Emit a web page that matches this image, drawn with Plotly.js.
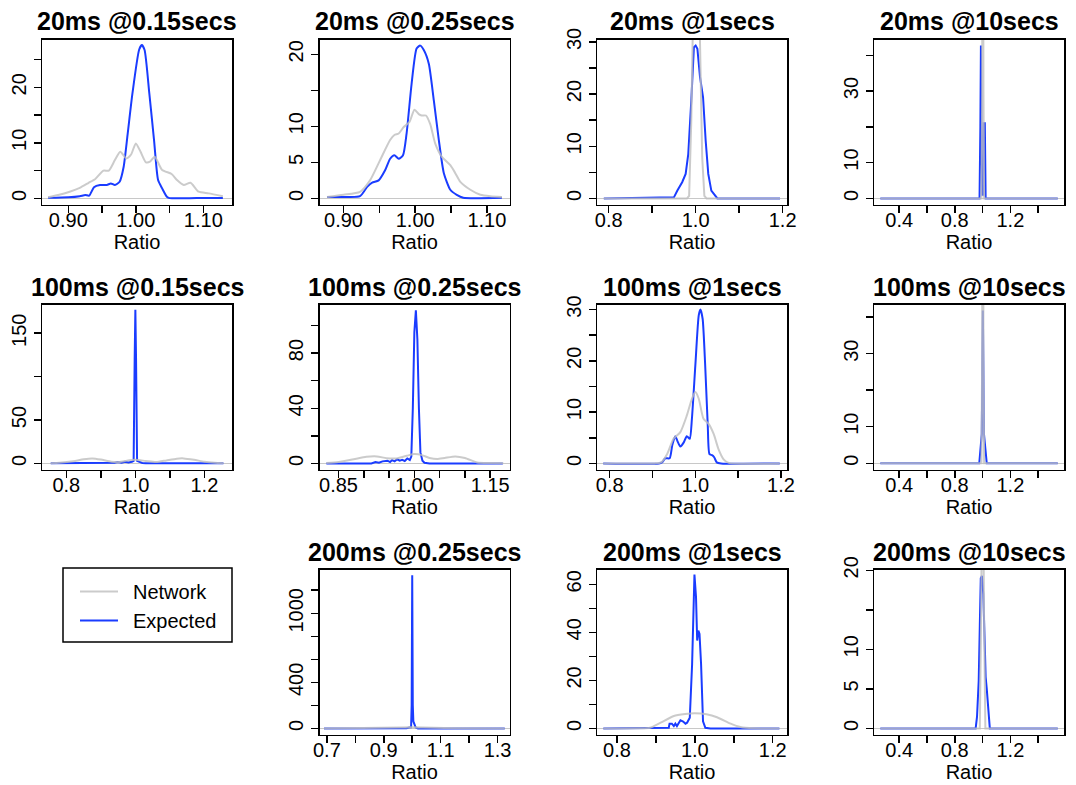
<!DOCTYPE html>
<html>
<head>
<meta charset="utf-8">
<script src="https://cdn.plot.ly/plotly-3.0.1.min.js"></script>
<style>html,body{margin:0;padding:0;background:#fff;}#chart{width:1076px;height:785px;}</style>
</head>
<body>
<div id="chart"></div>
<script>
// ---------- DATA ----------
const seriesNames = ['Network', 'Expected'];
const panelTitles = ['20ms @0.15secs','20ms @0.25secs','20ms @1secs','20ms @10secs',
                     '100ms @0.15secs','100ms @0.25secs','100ms @1secs','100ms @10secs',
                     '200ms @0.25secs','200ms @1secs','200ms @10secs'];
const xAxisLabel = 'Ratio';

// 20ms @0.15secs
const p1ExpX = [0.870,0.900,0.917,0.925,0.931,0.938,0.947,0.957,0.963,0.969,0.976,0.982,0.988,0.995,1.005,1.009,1.013,1.020,1.027,1.033,1.039,1.046,1.050,1.090,1.129];
const p1ExpY = [0.1,0.2,0.4,0.6,0.5,2.0,2.4,2.4,2.7,2.4,3.0,5.7,11.7,18.9,26.8,27.6,26.7,18.9,10.5,3.3,1.8,0.3,0.05,0.05,0.05];
const p1NetX = [0.870,0.885,0.902,0.917,0.930,0.940,0.952,0.960,0.969,0.977,0.986,0.993,1.000,1.007,1.015,1.021,1.028,1.039,1.053,1.061,1.071,1.081,1.093,1.108,1.129];
const p1NetY = [0.2,0.6,1.2,1.9,2.8,3.5,5.0,5.0,6.9,8.4,7.2,7.9,9.9,8.4,6.5,6.6,7.5,5.1,4.4,3.3,2.4,2.8,1.2,0.9,0.4];
// 20ms @0.25secs
const p2ExpX = [0.877,0.900,0.923,0.933,0.940,0.949,0.958,0.965,0.971,0.977,0.983,0.988,0.995,1.002,1.007,1.012,1.019,1.026,1.033,1.040,1.049,1.058,1.067,1.121];
const p2ExpY = [0.2,0.2,0.3,1.6,2.2,2.5,3.9,5.5,6.0,5.5,6.0,9.0,15.9,20.8,21.2,20.6,18.7,13.6,8.1,3.5,1.2,0.5,0.1,0.1];
const p2NetX = [0.877,0.900,0.923,0.937,0.951,0.965,0.971,0.977,0.984,0.992,0.999,1.005,1.009,1.015,1.021,1.028,1.037,1.049,1.056,1.063,1.077,1.091,1.105,1.121];
const p2NetY = [0.2,0.5,0.9,2.5,5.3,8.1,8.8,9.0,9.9,10.6,12.3,11.7,11.5,11.5,10.3,7.6,5.8,4.6,3.5,2.3,1.2,0.5,0.3,0.2];
// 20ms @1secs
const p3ExpX = [0.789,0.950,0.958,0.969,0.977,0.983,0.990,0.996,1.000,1.004,1.010,1.017,1.023,1.029,1.036,1.044,1.050,1.194];
const p3ExpY = [0,0.2,1.5,3.1,4.7,8.5,18.8,29.0,29.3,28.7,23.3,19.4,11.1,4.7,1.5,0.5,0,0];
const p3NetX = [0.789,0.980,0.985,0.990,0.995,1.000,1.005,1.010,1.015,1.020,1.025,1.194];
const p3NetY = [0,0,0.5,15,40,55,50,30,8,0.5,0,0];
// 20ms @10secs
const p4ExpX = [0.265,0.978,0.984,0.988,0.992,0.998,1.004,1.008,1.016,1.022,1.540];
const p4ExpY = [0,0,20,42.7,20,1,1,21,21,0,0];
const p4NetX = [0.265,0.992,0.997,1.0015,1.006,1.011,1.540];
const p4NetY = [0,0,30,150,30,0,0];
// 100ms @0.15secs
const p5ExpX = [0.755,0.900,0.940,0.950,0.960,0.970,0.980,0.990,0.995,0.998,1.000,1.002,1.005,1.010,1.020,1.030,1.255];
const p5ExpY = [0.3,0.5,0.8,1.5,0.8,2.0,1.0,2.0,3.0,120,177,120,3.0,2.0,0.5,0.3,0.3];
const p5NetX = [0.755,0.780,0.820,0.850,0.875,0.900,0.930,0.950,0.970,1.000,1.030,1.060,1.090,1.120,1.140,1.170,1.200,1.230,1.255];
const p5NetY = [0.3,0.8,2.5,4.8,5.8,4.5,2.0,1.5,2.8,4.2,2.8,1.5,3.5,5.5,5.8,4.2,2.0,0.8,0.3];
// 100ms @0.25secs
const p6ExpX = [0.826,0.915,0.923,0.930,0.937,0.947,0.952,0.956,0.961,0.966,0.971,0.976,0.981,0.986,0.991,0.994,0.997,1.000,1.003,1.006,1.009,1.012,1.016,1.020,1.030,1.175];
const p6ExpY = [0,0,1,0.5,1.5,2,1,2.4,1.5,3,2,2.6,1.8,3.6,2.5,5,40,95,111,90,40,8,2,0.5,0,0];
const p6NetX = [0.826,0.850,0.880,0.905,0.926,0.945,0.965,0.985,1.000,1.015,1.030,1.045,1.060,1.081,1.100,1.124,1.150,1.176];
const p6NetY = [0.3,1.0,3.0,4.8,5.1,3.8,3.6,5.5,6.8,6.0,4.0,3.2,4.0,5.1,4.0,0.7,0.3,0.2];
// 100ms @1secs
const p7ExpX = [0.785,0.915,0.922,0.930,0.940,0.946,0.953,0.958,0.965,0.973,0.980,0.987,0.992,1.000,1.008,1.012,1.017,1.023,1.029,1.033,1.039,1.044,1.050,1.060,1.197];
const p7ExpY = [0,0,0.2,1.0,1.0,3.5,5.3,4.4,3.3,4.1,5.3,4.8,8.7,19.1,28.9,30.0,28.2,19.1,7.4,1.8,1.6,1.2,0.2,0,0];
const p7NetX = [0.785,0.905,0.920,0.934,0.949,0.965,0.980,0.992,1.000,1.008,1.019,1.031,1.043,1.054,1.066,1.078,1.197];
const p7NetY = [0,0,0.2,1.8,4.8,6.1,9.3,12.6,13.9,12.6,8.7,7.7,5.7,2.8,0.8,0.1,0];
// 100ms @10secs
const p8ExpX = [0.265,0.976,0.994,1.002,1.010,1.030,1.540];
const p8ExpY = [0,0,8,41.8,8,0,0];
const p8NetX = [0.265,0.992,0.997,1.0015,1.006,1.011,1.540];
const p8NetY = [0,0,30,150,30,0,0];
// 200ms @0.25secs
const p10ExpX = [0.690,0.960,0.970,0.980,0.990,0.996,0.998,1.000,1.002,1.004,1.008,1.012,1.020,1.325];
const p10ExpY = [0,0,5,2,8,10,200,1330,200,60,35,8,0,0];
const p10NetX = [0.690,0.850,0.920,0.960,1.000,1.040,1.080,1.150,1.325];
const p10NetY = [0,1,4,8,10,8,4,1,0];
// 200ms @1secs
const p11ExpX = [0.765,0.925,0.933,0.935,0.941,0.946,0.950,0.954,0.959,0.963,0.970,0.976,0.980,0.987,0.993,0.999,1.003,1.006,1.009,1.012,1.016,1.021,1.027,1.040,1.217];
const p11ExpY = [0,0,0.3,2.0,2.0,1.0,2.0,1.0,2.4,3.4,2.9,2.0,2.4,4.5,26.8,64,54.7,36.6,40.7,39.3,26.8,3.0,0.3,0,0];
const p11NetX = [0.765,0.860,0.885,0.912,0.946,0.975,1.000,1.030,1.057,1.092,1.117,1.151,1.217];
const p11NetY = [0,0.05,0.3,2.4,5.2,6.0,6.3,5.9,4.7,2.0,0.6,0.05,0];
// 200ms @10secs
const p12ExpX = [0.265,0.950,0.960,0.972,0.980,0.987,0.995,1.005,1.015,1.022,1.030,1.040,1.052,1.540];
const p12ExpY = [0,0,1.5,6,13,19,19.3,17,11,6.5,5,2.5,0,0];
const p12NetX = [0.265,0.980,0.990,1.000,1.010,1.020,1.540];
const p12NetY = [0,0,15,40,15,0,0];

// tick values / labels
const xTicksA = [0.90,0.95,1.00,1.05,1.10];       const xLabelsA = ['0.90','','1.00','','1.10'];
const xTicksB = [0.8,0.9,1.0,1.1,1.2];            const xLabelsB = ['0.8','','1.0','','1.2'];
const xTicksC = [0.4,0.6,0.8,1.0,1.2,1.4];        const xLabelsC = ['0.4','','0.8','','1.2',''];
const xTicksD = [0.85,0.90,0.95,1.00,1.05,1.10,1.15]; const xLabelsD = ['0.85','','','1.00','','','1.15'];
const xTicksE = [0.7,0.8,0.9,1.0,1.1,1.2,1.3];    const xLabelsE = ['0.7','','0.9','','1.1','','1.3'];
const yTicks1 = [0,5,10,15,20,25];  const yLabels1 = ['0','','10','','20',''];
const yTicks2 = [0,5,10,15,20];     const yLabels2 = ['0','5','10','','20'];
const yTicks3 = [0,5,10,15,20,25,30]; const yLabels3 = ['0','','10','','20','','30'];
const yTicks4 = [0,10,20,30,40];    const yLabels4 = ['0','10','','30',''];
const yTicks5 = [0,50,100,150];     const yLabels5 = ['0','50','','150'];
const yTicks6 = [0,20,40,60,80,100]; const yLabels6 = ['0','','40','','80',''];
const yTicks10 = [0,200,400,600,800,1000,1200]; const yLabels10 = ['0','','400','','','1000',''];
const yTicks11 = [0,10,20,30,40,50,60]; const yLabels11 = ['0','','20','','40','','60'];

// ---------- PANELS ----------
const panels = [
  {row:0,col:0,exp:[p1ExpX,p1ExpY],net:[p1NetX,p1NetY],xr:[0.861,1.1425],yr:[-1.1,28.6],xt:[xTicksA,xLabelsA],yt:[yTicks1,yLabels1],shape:'spline'},
  {row:0,col:1,exp:[p2ExpX,p2ExpY],net:[p2NetX,p2NetY],xr:[0.8665,1.1316],yr:[-0.85,22.05],xt:[xTicksA,xLabelsA],yt:[yTicks2,yLabels2],shape:'spline'},
  {row:0,col:2,exp:[p3ExpX,p3ExpY],net:[p3NetX,p3NetY],xr:[0.7732,1.21],yr:[-1.17,30.47],xt:[xTicksB,xLabelsB],yt:[yTicks3,yLabels3],shape:'linear'},
  {row:0,col:3,exp:[p4ExpX,p4ExpY],net:[p4NetX,p4NetY],xr:[0.219,1.5855],yr:[-1.7,44.4],xt:[xTicksC,xLabelsC],yt:[yTicks4,yLabels4],shape:'linear'},
  {row:1,col:0,exp:[p5ExpX,p5ExpY],net:[p5NetX,p5NetY],xr:[0.7295,1.280],yr:[-7,183.1],xt:[xTicksB,xLabelsB],yt:[yTicks5,yLabels5],shape:'linear',netShape:'spline'},
  {row:1,col:1,exp:[p6ExpX,p6ExpY],net:[p6NetX,p6NetY],xr:[0.8124,1.1882],yr:[-4.4,115.2],xt:[xTicksD,xLabelsD],yt:[yTicks6,yLabels6],shape:'linear',netShape:'spline'},
  {row:1,col:2,exp:[p7ExpX,p7ExpY],net:[p7NetX,p7NetY],xr:[0.7704,1.214],yr:[-1.19,30.98],xt:[xTicksB,xLabelsB],yt:[yTicks3,yLabels3],shape:'spline'},
  {row:1,col:3,exp:[p8ExpX,p8ExpY],net:[p8NetX,p8NetY],xr:[0.219,1.5855],yr:[-1.7,43.45],xt:[xTicksC,xLabelsC],yt:[yTicks4,yLabels4],shape:'linear'},
  {row:2,col:1,exp:[p10ExpX,p10ExpY],net:[p10NetX,p10NetY],xr:[0.674,1.342],yr:[-53,1380],xt:[xTicksE,xLabelsE],yt:[yTicks10,yLabels10],shape:'linear'},
  {row:2,col:2,exp:[p11ExpX,p11ExpY],net:[p11NetX,p11NetY],xr:[0.7486,1.2368],yr:[-2.5,66.14],xt:[xTicksB,xLabelsB],yt:[yTicks11,yLabels11],shape:'linear',netShape:'spline'},
  {row:2,col:3,exp:[p12ExpX,p12ExpY],net:[p12NetX,p12NetY],xr:[0.219,1.5855],yr:[-0.77,20.1],xt:[xTicksC,xLabelsC],yt:[yTicks2,yLabels2],shape:'linear'}
];

const W = 1076, H = 785;
const colLeft = [42, 319.5, 597, 874];
const boxW = 190;
const rowTop = [39.5, 304.5, 569.5];
const boxH = 165;
const BLUE = '#1a3cff';
const GREY = 'rgba(190,190,190,0.8)';
const FONT = 'Liberation Sans, Arial, Helvetica, sans-serif';

const traces = [];
const layout = {
  width: W, height: H,
  margin: {l:0, r:0, t:0, b:0},
  paper_bgcolor: '#fff', plot_bgcolor: '#fff',
  font: {family: FONT, size: 20, color: '#000'},
  showlegend: true,
  legend: {x: 75/W, y: 1 - 572/H, xanchor: 'left', yanchor: 'top',
           borderwidth: 0, bgcolor: 'rgba(0,0,0,0)',
           font: {family: FONT, size: 20, color: '#000'}, itemwidth: 38, tracegroupgap: 0},
  shapes: [{type: 'rect', xref: 'paper', yref: 'paper',
            x0: 63/W, x1: 232/W, y0: 1 - 642/H, y1: 1 - 568/H,
            line: {color: '#000', width: 1.5}, fillcolor: 'rgba(0,0,0,0)', layer: 'below'}],
  annotations: [],
  hovermode: false
};

panels.forEach((p, i) => {
  const n = i + 1;
  const xa = n === 1 ? 'xaxis' : 'xaxis' + n;
  const ya = n === 1 ? 'yaxis' : 'yaxis' + n;
  const xref = n === 1 ? 'x' : 'x' + n;
  const yref = n === 1 ? 'y' : 'y' + n;
  const x0 = colLeft[p.col], y0 = rowTop[p.row];
  layout[xa] = {
    domain: [x0 / W, (x0 + boxW) / W], anchor: yref, range: p.xr,
    showgrid: false, zeroline: false, showline: true, mirror: true, linecolor: '#000', linewidth: 1.5,
    ticks: 'outside', ticklen: 7, tickwidth: 1.5, tickcolor: '#000',
    tickmode: 'array', tickvals: p.xt[0], ticktext: p.xt[1], ticklabelstandoff: -10,
    tickfont: {family: FONT, size: 20, color: '#000'},
    title: {text: xAxisLabel, font: {family: FONT, size: 20, color: '#000'}, standoff: 2},
    fixedrange: true
  };
  layout[ya] = {
    domain: [1 - (y0 + boxH) / H, 1 - y0 / H], anchor: xref, range: p.yr,
    showgrid: false, zeroline: true, zerolinecolor: '#c8c8c8', zerolinewidth: 1,
    showline: true, mirror: true, linecolor: '#000', linewidth: 1.5,
    ticks: 'outside', ticklen: 7, tickwidth: 1.5, tickcolor: '#000',
    tickmode: 'array', tickvals: p.yt[0], ticktext: p.yt[1], tickangle: -90,
    tickfont: {family: FONT, size: 20, color: '#000'},
    fixedrange: true
  };
  traces.push({
    type: 'scatter', mode: 'lines', x: p.exp[0], y: p.exp[1], xaxis: xref, yaxis: yref,
    name: '\u2002' + seriesNames[1], legendrank: 2, showlegend: i === 0,
    line: {color: BLUE, width: 2, shape: p.shape, smoothing: 0.6}
  });
  traces.push({
    type: 'scatter', mode: 'lines', x: p.net[0], y: p.net[1], xaxis: xref, yaxis: yref,
    name: '\u2002' + seriesNames[0], legendrank: 1, showlegend: i === 0,
    line: {color: GREY, width: 2, shape: p.netShape || p.shape, smoothing: 0.6}
  });
  layout.annotations.push({
    text: '<b>' + panelTitles[i] + '</b>', xref: 'paper', yref: 'paper',
    x: (x0 + boxW / 2) / W, y: 1 - (y0 - 18) / H, xanchor: 'center', yanchor: 'middle',
    showarrow: false, font: {family: FONT, size: 25, color: '#000'}
  });
});

Plotly.newPlot('chart', traces, layout, {displayModeBar: false, staticPlot: true});
</script>
</body>
</html>
